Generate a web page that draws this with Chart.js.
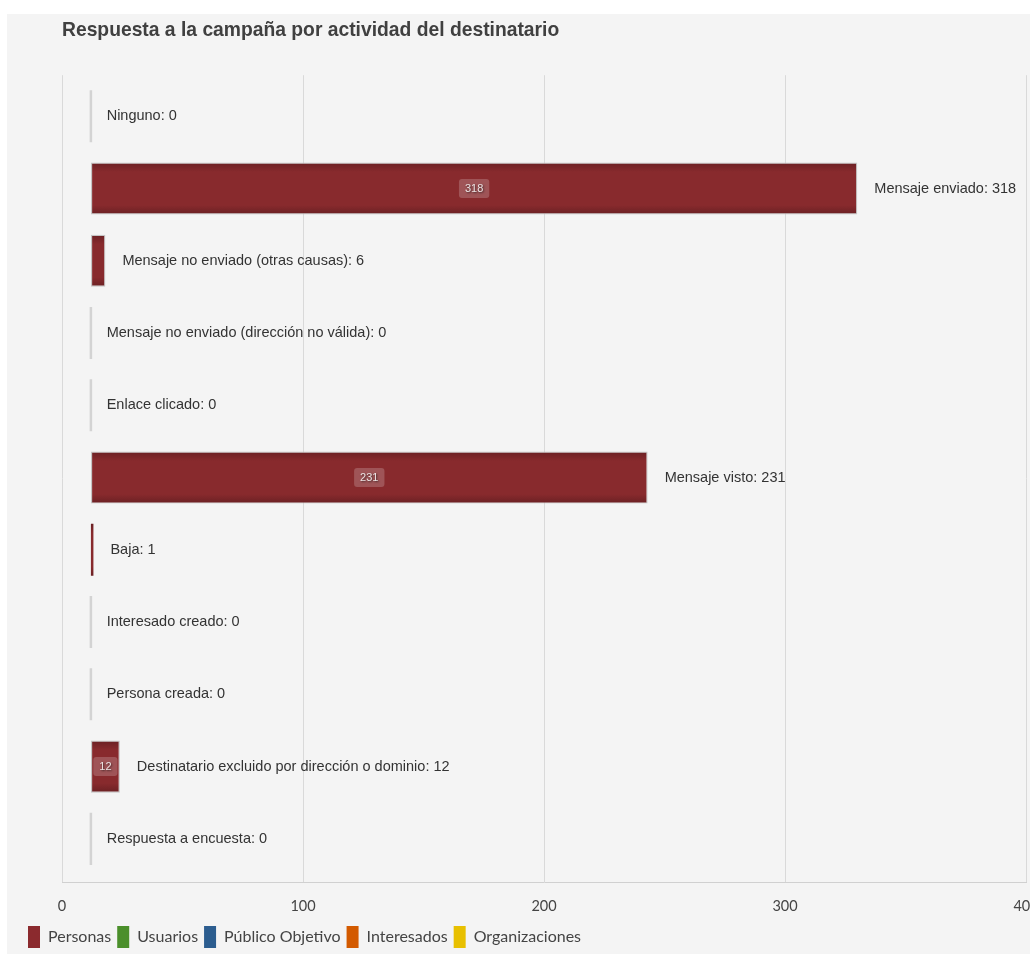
<!DOCTYPE html>
<html><head><meta charset="utf-8">
<script src="https://cdn.jsdelivr.net/npm/chart.js@4/dist/chart.umd.min.js"></script>
<style>
html,body{margin:0;padding:0;background:#fff;overflow:hidden;width:1030px;height:954px;}
#wrap{position:absolute;left:7px;top:14px;width:1060px;height:944px;background:#f4f4f4;}
canvas{display:block;}
</style></head><body>
<div id="wrap"><canvas id="c" width="1060" height="944"></canvas></div>
<script>
const categories = ['Ninguno','Mensaje enviado','Mensaje no enviado (otras causas)','Mensaje no enviado (dirección no válida)','Enlace clicado','Mensaje visto','Baja','Interesado creado','Persona creada','Destinatario excluido por dirección o dominio','Respuesta a encuesta'];
const personas = [0,318,6,0,0,231,1,0,0,12,0];
const usuarios = [];
const publicoObjetivo = [];
const interesados = [];
const organizaciones = [];
const seriesNames = ['Personas','Usuarios','Público Objetivo','Interesados','Organizaciones'];
const seriesColors = ['#8b2a2e','#4b8f2b','#2c5d8f','#d35a00','#e8c000'];
const xTicks = [0,100,200,300,400];
const titleText = 'Respuesta a la campaña por actividad del destinatario';

const BAR_PCT = 0.72;
const zeroColor = '#d3d3d3';

function barFill(c){
  if (c.type !== 'data') return seriesColors[0];
  if (!c.raw) return zeroColor;
  const ch = c.chart, ys = ch.scales.y;
  if (!ys || !ch.chartArea) return seriesColors[0];
  const cy = ys.getPixelForValue(c.dataIndex);
  const half = (ys.bottom - ys.top) / categories.length * BAR_PCT / 2;
  const g = ch.ctx.createLinearGradient(0, cy - half, 0, cy + half);
  g.addColorStop(0, '#6a2023');
  g.addColorStop(0.18, '#882a2d');
  g.addColorStop(0.82, '#882a2d');
  g.addColorStop(1, '#6a2023');
  return g;
}

const bandInset = {
  id: 'bandInset',
  afterLayout(chart){
    const y = chart.scales.y;
    y.top = chart.chartArea.top + 5;
    y.bottom = chart.chartArea.bottom - 7;
    y.configure();
  }
};

const barLabels = {
  id: 'barLabels',
  afterDatasetsDraw(chart){
    const meta = chart.getDatasetMeta(0);
    const ctx = chart.ctx;
    meta.data.forEach((bar, i) => {
      const v = personas[i];
      const p = bar.getProps(['x','y','base'], true);
      ctx.save();
      ctx.font = '14.5px "Liberation Sans", Arial, sans-serif';
      ctx.fillStyle = '#333';
      ctx.textBaseline = 'middle';
      ctx.textAlign = 'left';
      ctx.fillText(categories[i] + ': ' + v, p.x + 17, p.y);
      const txt = String(v);
      ctx.font = '11px "Liberation Sans", Arial, sans-serif';
      const tw = ctx.measureText(txt).width;
      const bw = tw + 12, bh = 19;
      if (v && (p.x - p.base) >= bw + 2) {
        const cx = (p.x + p.base) / 2;
        ctx.fillStyle = 'rgba(255,255,255,0.2)';
        ctx.beginPath();
        ctx.roundRect(cx - bw/2, p.y - bh/2, bw, bh, 3);
        ctx.fill();
        ctx.shadowColor = 'rgba(0,0,0,0.6)';
        ctx.shadowBlur = 2;
        ctx.shadowOffsetX = 1;
        ctx.shadowOffsetY = 1;
        ctx.fillStyle = 'rgba(240,235,235,0.95)';
        ctx.textAlign = 'center';
        ctx.fillText(txt, cx, p.y + 0.5);
      }
      ctx.restore();
    });
  }
};

const seriesData = [personas, usuarios, publicoObjetivo, interesados, organizaciones];

new Chart(document.getElementById('c'), {
  type: 'bar',
  data: {
    labels: categories,
    datasets: seriesNames.map((name, i) => ({
      label: name,
      data: seriesData[i],
      xAxisID: 'xb',
      yAxisID: 'y',
      grouped: false,
      barPercentage: BAR_PCT,
      categoryPercentage: 1,
      borderSkipped: false,
      minBarLength: i === 0 ? 2.5 : 0,
      backgroundColor: i === 0 ? barFill : seriesColors[i],
      borderColor: '#c4c4c4',
      borderWidth: c => (c.type === 'data' && c.raw > 3) ? 1.2 : 0
    }))
  },
  options: {
    indexAxis: 'y',
    responsive: false,
    animation: false,
    devicePixelRatio: 1,
    layout: { padding: { left: 15, right: 41, top: 0, bottom: 0 } },
    scales: {
      x: {
        type: 'linear', position: 'bottom',
        min: xTicks[0], max: xTicks[xTicks.length - 1],
        afterBuildTicks: s => { s.ticks = xTicks.map(v => ({ value: v })); },
        grid: { color: '#d9d9d9', lineWidth: 1, drawTicks: false },
        border: { display: true, color: '#d0d0d0' },
        ticks: { padding: 16, color: '#444', font: { family: 'Lato', size: 14.5 } },
        afterFit: s => { s.height = 38; }
      },
      xb: { type: 'linear', display: false, min: -12, max: 388 },
      y: {
        type: 'category', display: true,
        grid: { display: false }, border: { display: false },
        ticks: { display: false },
        afterFit: s => { s.width = 40; }
      }
    },
    plugins: {
      title: {
        display: true, text: titleText, align: 'start', fullSize: false,
        color: '#404040',
        font: { family: '"Liberation Sans", Arial, sans-serif', size: 19.3, weight: 'bold' },
        padding: { top: 5, bottom: 33 }
      },
      legend: {
        position: 'bottom', align: 'start',
        labels: {
          font: { family: 'Lato', size: 16 }, color: '#444',
          boxWidth: 12, boxHeight: 22, padding: 6,
          generateLabels: chart => chart.data.datasets.map((d, i) => ({
            text: d.label, fillStyle: seriesColors[i], strokeStyle: seriesColors[i],
            lineWidth: 0, hidden: false, datasetIndex: i, fontColor: '#444'
          }))
        }
      },
      tooltip: { enabled: false }
    }
  },
  plugins: [bandInset, barLabels]
});
</script>
</body></html>
